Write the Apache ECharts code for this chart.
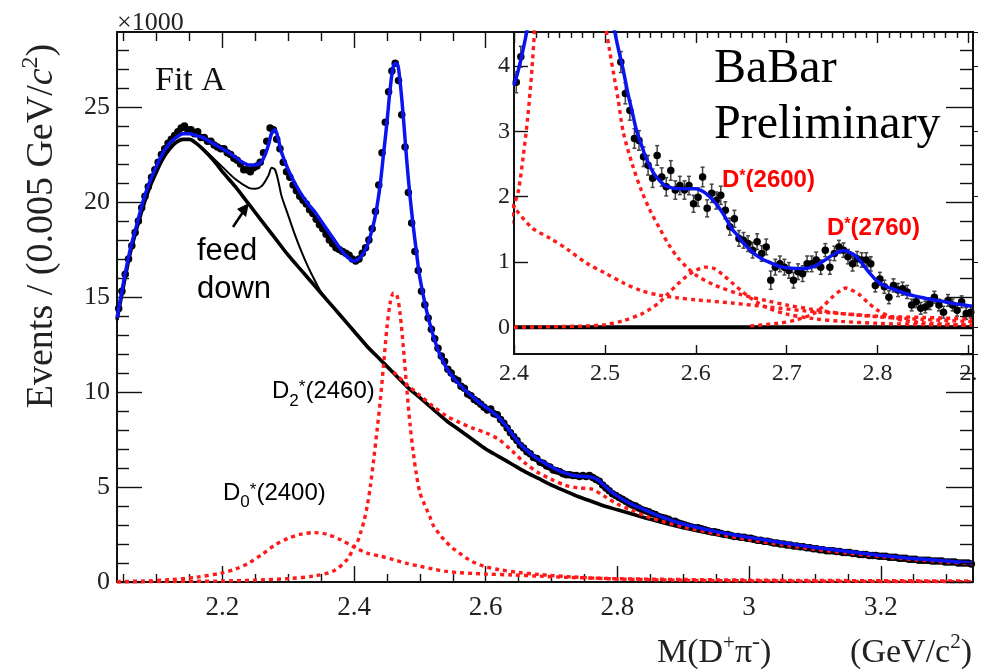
<!DOCTYPE html>
<html><head><meta charset="utf-8">
<script src="https://cdn.jsdelivr.net/npm/echarts@6/dist/echarts.min.js"></script>
<style>html,body{margin:0;padding:0;background:#fff}#c{width:988px;height:672px}</style>
</head><body><div id="c"></div>
<script>
// ---------- tick values ----------
const mainXMajor = [2.2, 2.4, 2.6, 2.8, 3, 3.2];
const mainXMinor = [2.05,2.1,2.15,2.25,2.3,2.35,2.45,2.5,2.55,2.65,2.7,2.75,2.85,2.9,2.95,3.05,3.1,3.15,3.25,3.3];
const mainYMajor = [0, 5, 10, 15, 20, 25];
const mainYMinor = [1,2,3,4,6,7,8,9,11,12,13,14,16,17,18,19,21,22,23,24,26,27,28];
const insetXMajor = [2.4, 2.5, 2.6, 2.7, 2.8, 2.9];
const insetXMinor = [2.4125,2.425,2.4375,2.45,2.4625,2.475,2.4875,2.5125,2.525,2.5375,2.55,2.5625,2.575,2.5875,2.6125,2.625,2.6375,2.65,2.6625,2.675,2.6875,2.7125,2.725,2.7375,2.75,2.7625,2.775,2.7875,2.8125,2.825,2.8375,2.85,2.8625,2.875,2.8875];
const insetYMajor = [0, 1, 2, 3, 4];

// ---------- main histogram (thousands of events per 0.005 GeV bin) ----------
const MAIN_X0 = 2.0425, BIN = 0.005;
const mainData = [
14.4,15.3,16.2,17.0,17.7,18.4,19.0,19.7,20.3,20.8,
21.3,21.7,22.1,22.5,22.8,23.1,23.3,23.5,23.7,23.9,
24.0,23.8,23.8,23.6,23.7,23.4,23.4,23.2,23.2,23.0,
22.9,22.8,22.8,22.6,22.5,22.3,22.2,22.0,21.7,21.7,
21.6,21.8,21.9,22.1,22.6,23.2,23.9,23.8,23.3,22.8,
22.1,21.6,21.3,20.9,20.6,20.3,20.1,19.9,19.6,19.4,
19.1,18.8,18.6,18.3,18.0,17.8,17.6,17.5,17.4,17.3,
17.2,17.0,16.9,17.0,17.3,17.6,18.0,18.6,19.5,20.9,
22.6,24.2,25.8,26.9,27.3,26.4,24.6,22.9,20.5,18.9,
17.4,16.4,15.3,14.6,13.9,13.3,12.8,12.3,11.9,11.6,
11.2,11.0,10.7,10.6,10.3,10.2,9.9,9.8,9.6,9.5,
9.35,9.2,9.05,9.1,8.85,8.8,8.55,8.35,8.1,7.85,
7.65,7.45,7.2,7.05,6.85,6.75,6.55,6.5,6.3,6.25,
6.1,6.05,5.9,5.85,5.8,5.7,5.65,5.65,5.6,5.6,
5.55,5.6,5.55,5.6,5.5,5.4,5.3,5.1,4.95,4.8,
4.65,4.55,4.45,4.35,4.25,4.15,4.05,4.0,3.9,3.8,
3.75,3.7,3.6,3.55,3.45,3.4,3.35,3.3,3.2,3.2,
3.1,3.05,3.0,2.95,2.9,2.85,2.85,2.8,2.75,2.7,
2.65,2.65,2.6,2.55,2.5,2.5,2.45,2.4,2.4,2.35,
2.35,2.3,2.3,2.25,2.2,2.2,2.15,2.15,2.1,2.05,
2.05,2.0,2.0,1.95,1.95,1.9,1.9,1.85,1.85,1.8,
1.8,1.75,1.75,1.7,1.7,1.65,1.65,1.65,1.6,1.6,
1.55,1.55,1.55,1.5,1.5,1.45,1.45,1.45,1.4,1.4,
1.4,1.35,1.35,1.35,1.3,1.3,1.3,1.25,1.25,1.25,
1.2,1.2,1.2,1.15,1.15,1.15,1.15,1.1,1.1,1.1,
1.1,1.05,1.05,1.05,1.05,1.0,1.0,1.0,1.0,0.95];

// ---------- main fit curves ----------
const blueX = [2.04,2.05,2.06,2.07,2.08,2.09,2.10,2.11,2.12,2.13,2.14,2.15,2.16,2.17,2.18,2.19,2.20,2.21,2.22,2.23,2.24,2.25,2.26,2.265,2.27,2.275,2.28,2.285,2.29,2.30,2.31,2.32,2.33,2.34,2.35,2.36,2.37,2.38,2.39,2.40,2.41,2.42,2.43,2.435,2.44,2.445,2.45,2.455,2.46,2.465,2.47,2.475,2.48,2.485,2.49,2.495,2.50,2.51,2.52,2.53,2.54,2.55,2.56,2.57,2.58,2.59,2.60,2.61,2.62,2.63,2.64,2.65,2.66,2.67,2.68,2.69,2.70,2.71,2.72,2.73,2.74,2.75,2.76,2.77,2.78,2.79,2.80,2.82,2.84,2.86,2.88,2.90,2.95,3.00,3.05,3.10,3.15,3.20,3.25,3.30,3.34];
const blueY = [13.9,15.8,17.5,18.8,20.1,21.1,21.9,22.6,23.1,23.4,23.6,23.6,23.5,23.4,23.2,23.0,22.8,22.6,22.35,22.1,21.95,21.95,22.15,22.5,23.0,23.65,23.8,23.3,22.6,21.7,21.0,20.4,19.9,19.5,19.0,18.5,18.0,17.5,17.1,16.9,17.1,17.7,18.9,19.8,21.0,22.6,24.2,26.0,27.2,27.3,26.3,24.4,22.2,20.3,18.7,17.3,16.0,14.3,13.0,12.0,11.3,10.8,10.4,10.05,9.75,9.45,9.2,8.95,8.65,8.25,7.8,7.35,7.0,6.7,6.45,6.25,6.05,5.88,5.74,5.63,5.58,5.56,5.52,5.38,5.08,4.77,4.52,4.12,3.82,3.52,3.27,3.05,2.65,2.35,2.07,1.82,1.6,1.4,1.24,1.1,1.0];

const bkgX = [2.04,2.05,2.06,2.07,2.08,2.09,2.10,2.11,2.12,2.13,2.14,2.15,2.16,2.17,2.18,2.19,2.20,2.22,2.24,2.26,2.28,2.30,2.32,2.34,2.36,2.38,2.40,2.42,2.44,2.46,2.48,2.50,2.52,2.54,2.56,2.58,2.60,2.62,2.64,2.66,2.68,2.70,2.72,2.74,2.76,2.78,2.80,2.85,2.90,2.95,3.00,3.05,3.10,3.15,3.20,3.25,3.30,3.34];
const bkgY = [13.8,15.6,17.3,18.6,19.8,20.8,21.6,22.3,22.8,23.15,23.3,23.3,23.1,22.8,22.45,22.05,21.6,20.8,19.9,19.0,18.1,17.2,16.4,15.6,14.8,14.0,13.2,12.4,11.7,11.0,10.3,9.7,9.1,8.5,8.0,7.5,7.0,6.6,6.2,5.8,5.45,5.1,4.8,4.5,4.25,4.0,3.8,3.3,2.85,2.5,2.2,1.93,1.7,1.5,1.32,1.16,1.03,0.93];

const feedX = [2.16,2.18,2.20,2.22,2.24,2.25,2.26,2.27,2.275,2.28,2.285,2.29,2.30,2.31,2.32,2.33,2.34,2.35,2.36];
const feedY = [23.1,22.5,21.85,21.2,20.75,20.7,20.85,21.4,21.8,21.7,21.1,20.3,19.3,18.3,17.4,16.6,15.9,15.25,14.8];

const exX = [2.46,2.48,2.50,2.52,2.54,2.56,2.58,2.60,2.62,2.64,2.66,2.68,2.70,2.72,2.74,2.76,2.78,2.80,2.82,2.85,2.90,2.95,3.00,3.05,3.10,3.15,3.20,3.25,3.30,3.34];
const exY = [11.05,10.4,9.82,9.25,8.75,8.4,8.1,7.85,7.5,6.9,6.25,5.75,5.4,5.1,4.95,4.9,4.52,4.1,3.8,3.38,2.9,2.54,2.23,1.96,1.72,1.52,1.34,1.18,1.05,0.95];

const d0X = [2.04,2.08,2.12,2.16,2.20,2.22,2.24,2.26,2.28,2.30,2.32,2.34,2.36,2.38,2.40,2.42,2.44,2.46,2.48,2.50,2.52,2.54,2.56,2.58,2.60,2.64,2.68,2.72,2.76,2.80,2.85,2.90,3.00,3.10,3.20,3.34];
const d0Y = [0.02,0.05,0.12,0.25,0.48,0.68,1.0,1.45,1.95,2.3,2.52,2.6,2.5,2.22,1.84,1.52,1.36,1.18,0.98,0.83,0.68,0.56,0.49,0.45,0.42,0.37,0.31,0.25,0.21,0.17,0.15,0.13,0.1,0.08,0.07,0.05];

const d2X = [2.04,2.10,2.20,2.25,2.30,2.34,2.37,2.39,2.40,2.405,2.41,2.415,2.42,2.425,2.43,2.435,2.44,2.445,2.45,2.455,2.46,2.465,2.47,2.475,2.48,2.485,2.49,2.495,2.50,2.505,2.51,2.515,2.52,2.53,2.54,2.55,2.56,2.57,2.58,2.59,2.60,2.62,2.65,2.68,2.70,2.73,2.76,2.80,2.85,2.90,3.00,3.10,3.20,3.34];
const d2Y = [0.0,0.02,0.05,0.1,0.18,0.32,0.6,1.2,1.85,2.1,2.6,3.2,4.0,5.1,6.5,8.0,9.6,11.5,13.4,14.7,15.2,15.1,14.1,12.3,10.2,8.3,6.8,5.6,4.7,4.25,3.85,3.45,3.0,2.5,2.1,1.78,1.52,1.27,1.07,0.92,0.8,0.65,0.5,0.4,0.34,0.27,0.21,0.16,0.12,0.09,0.06,0.04,0.03,0.02];

// ---------- inset: background-subtracted ----------
const INSET_X0 = 2.4025;
const insetData = [
3.75,4.14,
null,null,null,null,null,null,null,null,null,null,null,null,null,null,null,null,null,null,null,null,null,
4.06,3.58,3.32,2.89,2.86,2.61,2.48,2.28,2.63,2.30,
2.15,2.40,2.10,2.17,2.10,2.17,1.89,1.99,2.30,1.82,
2.05,1.94,2.02,1.79,1.54,1.66,1.36,1.33,1.28,1.18,
1.31,1.13,1.23,0.72,0.92,0.97,0.92,0.87,0.72,0.85,
0.82,0.97,0.97,1.03,0.92,1.18,0.92,1.13,1.23,1.18,
1.08,0.97,1.05,1.03,1.03,0.97,0.64,0.74,0.62,0.46,
0.64,0.57,0.59,0.54,0.34,0.39,0.29,0.31,0.36,0.46,
0.34,0.23,0.41,0.34,0.26,0.39,0.21,0.23];
const insetErr = [
0.16,0.16,
null,null,null,null,null,null,null,null,null,null,null,null,null,null,null,null,null,null,null,null,null,
0.16,0.16,0.15,0.15,0.15,0.15,0.15,0.14,0.15,0.14,
0.14,0.15,0.14,0.14,0.14,0.14,0.13,0.14,0.15,0.13,
0.14,0.13,0.14,0.13,0.13,0.13,0.12,0.12,0.12,0.12,
0.12,0.12,0.12,0.14,0.12,0.12,0.12,0.12,0.12,0.12,
0.12,0.12,0.12,0.12,0.11,0.1,0.11,0.11,0.1,0.11,
0.11,0.11,0.11,0.11,0.11,0.11,0.1,0.1,0.1,0.1,
0.1,0.1,0.1,0.1,0.09,0.09,0.09,0.09,0.09,0.09,
0.09,0.09,0.09,0.09,0.09,0.09,0.09,0.09];

const insBlueX = [2.400,2.405,2.410,2.415,2.420,2.43,2.44,2.45,2.46,2.47,2.48,2.49,2.50,2.505,2.51,2.515,2.52,2.525,2.53,2.535,2.54,2.545,2.55,2.555,2.56,2.565,2.57,2.58,2.59,2.60,2.605,2.61,2.615,2.62,2.625,2.63,2.635,2.64,2.645,2.65,2.655,2.66,2.665,2.67,2.675,2.68,2.69,2.70,2.71,2.72,2.73,2.74,2.75,2.755,2.76,2.765,2.77,2.775,2.78,2.785,2.79,2.795,2.80,2.81,2.82,2.83,2.84,2.85,2.86,2.87,2.88,2.89,2.90,2.905];
const insBlueY = [3.7,3.95,4.25,4.6,5.1,6.6,9.3,13.2,16.2,15.3,11.9,8.6,6.3,5.3,4.6,4.25,3.95,3.6,3.3,3.0,2.8,2.6,2.45,2.33,2.25,2.18,2.15,2.12,2.12,2.12,2.1,2.06,2.0,1.93,1.84,1.74,1.62,1.5,1.42,1.33,1.25,1.18,1.12,1.07,1.03,1.0,0.94,0.91,0.9,0.9,0.93,1.01,1.1,1.14,1.17,1.17,1.14,1.1,1.03,0.94,0.85,0.77,0.7,0.62,0.57,0.52,0.48,0.45,0.42,0.4,0.37,0.35,0.33,0.32];

const d2600X = [2.40,2.45,2.48,2.50,2.52,2.54,2.55,2.56,2.57,2.58,2.59,2.60,2.61,2.62,2.63,2.64,2.65,2.66,2.67,2.68,2.70,2.73,2.76,2.80,2.85,2.905];
const d2600Y = [0.0,0.01,0.02,0.04,0.1,0.2,0.28,0.38,0.52,0.66,0.78,0.87,0.92,0.9,0.8,0.68,0.56,0.45,0.36,0.29,0.2,0.13,0.09,0.06,0.04,0.03];

const d2760X = [2.66,2.69,2.71,2.73,2.74,2.75,2.76,2.765,2.77,2.78,2.79,2.80,2.82,2.85,2.905];
const d2760Y = [0.02,0.06,0.11,0.21,0.32,0.46,0.57,0.6,0.58,0.5,0.37,0.26,0.13,0.07,0.03];

const zeroX = [2.40, 2.905];
const zeroY = [0, 0];

// ---------- helpers ----------
const pairs = (xs, ys) => xs.map((x, i) => [x, ys[i]]);
const mainPts = mainData.map((v, i) => [+(MAIN_X0 + i * BIN).toFixed(4), v]);
const insetPts = [], insetBars = [];
insetData.forEach((v, i) => {
  if (v === null) return;
  const x = +(INSET_X0 + i * BIN).toFixed(4);
  insetPts.push([x, v]);
  insetBars.push([x, v - insetErr[i], v + insetErr[i]]);
});

const SERIF = '"Liberation Serif", "Times New Roman", serif';
const SANS = '"Liberation Sans", Arial, sans-serif';
const mctx = document.createElement('canvas').getContext('2d');
function baseOff(font) { mctx.font = font; mctx.textBaseline = 'middle'; return mctx.measureText('H').actualBoundingBoxDescent; }
function runWidth(parts) { let w = 0; parts.forEach(p => { mctx.font = p.font; w += mctx.measureText(p.t).width; }); return w; }
function run(ox, oy, parts, opt) {
  opt = opt || {};
  const rot = opt.rot || 0;
  const ux = Math.cos(rot), uy = -Math.sin(rot);
  const vx = Math.sin(rot), vy = Math.cos(rot);
  let adv = 0;
  if (opt.anchor === 'center') adv = -runWidth(parts) / 2;
  if (opt.anchor === 'right') adv = -runWidth(parts);
  const els = [];
  parts.forEach(p => {
    mctx.font = p.font;
    const w = mctx.measureText(p.t).width;
    const ly = (p.dy || 0) - baseOff(p.font);
    els.push({ type: 'text', silent: true, z: 50, rotation: rot,
      x: ox + ux * adv + vx * ly, y: oy + uy * adv + vy * ly,
      style: { text: p.t, font: p.font, fill: p.fill || opt.fill || '#000',
        align: 'left', verticalAlign: 'middle', textAlign: 'left', textVerticalAlign: 'middle' } });
    adv += w;
  });
  return els;
}

const TICK = '#111';
function vAxis(o) {
  return Object.assign({
    type: 'value', splitLine: { show: false },
    axisLine: { show: false, onZero: false, lineStyle: { color: TICK, width: 2 } },
    axisLabel: { show: false },
  }, o);
}
function ticks(values, len, w) {
  return { show: true, inside: true, length: len, customValues: values, lineStyle: { color: TICK, width: w || 1.4 } };
}

const dotted = (color) => ({ color: color || '#ff1a1a', width: 3.4, type: [4, 4], cap: 'butt' });

const option = {
  animation: false,
  backgroundColor: '#fff',
  grid: [
    { left: 117, top: 32, width: 856, height: 550, show: false, outerBoundsMode: 'none' },
    { left: 514, top: 32, width: 459, height: 322, show: true, backgroundColor: '#fff', borderWidth: 0, z: 5, outerBoundsMode: 'none' }
  ],
  xAxis: [
    vAxis({ gridIndex: 0, position: 'bottom', min: 2.04, max: 3.34,
      axisLine: { show: true, onZero: false, lineStyle: { color: TICK, width: 2 } },
      axisTick: ticks(mainXMajor, 16),
      axisLabel: { show: true, customValues: mainXMajor, fontFamily: SERIF, fontSize: 27, color: '#222', margin: 12 } }),
    vAxis({ gridIndex: 0, position: 'bottom', min: 2.04, max: 3.34, axisTick: ticks(mainXMinor, 8) }),
    vAxis({ gridIndex: 0, position: 'top', min: 2.04, max: 3.34,
      axisLine: { show: true, onZero: false, lineStyle: { color: TICK, width: 2 } },
      axisTick: ticks(mainXMajor, 16) }),
    vAxis({ gridIndex: 0, position: 'top', min: 2.04, max: 3.34, axisTick: ticks(mainXMinor, 9) }),
    vAxis({ gridIndex: 1, position: 'bottom', min: 2.4, max: 2.905, z: 6,
      axisLine: { show: true, onZero: false, lineStyle: { color: TICK, width: 2 } },
      axisTick: ticks(insetXMajor, 9),
      axisLabel: { show: true, customValues: insetXMajor, fontFamily: SERIF, fontSize: 24, color: '#222', margin: 8,
        formatter: v => (Math.abs(v - 2.9) < 1e-6 ? '2.' : String(v)) } }),
    vAxis({ gridIndex: 1, position: 'top', min: 2.4, max: 2.905, z: 6,
      axisLine: { show: true, onZero: false, lineStyle: { color: TICK, width: 2 } },
      axisTick: ticks(insetXMajor, 11) }),
    vAxis({ gridIndex: 1, position: 'top', min: 2.4, max: 2.905, z: 6, axisTick: ticks(insetXMinor, 6) })
  ],
  yAxis: [
    vAxis({ gridIndex: 0, position: 'left', min: 0, max: 28.95,
      axisLine: { show: true, onZero: false, lineStyle: { color: TICK, width: 2 } },
      axisTick: ticks(mainYMajor, 25),
      axisLabel: { show: true, customValues: mainYMajor, fontFamily: SERIF, fontSize: 26, color: '#222', margin: 7 } }),
    vAxis({ gridIndex: 0, position: 'left', min: 0, max: 28.95, axisTick: ticks(mainYMinor, 12) }),
    vAxis({ gridIndex: 0, position: 'right', min: 0, max: 28.95, z: 20,
      axisLine: { show: true, onZero: false, lineStyle: { color: TICK, width: 2 } },
      axisTick: ticks(mainYMajor, 27) }),
    vAxis({ gridIndex: 0, position: 'right', min: 0, max: 28.95, z: 20, axisTick: ticks(mainYMinor, 13) }),
    vAxis({ gridIndex: 1, position: 'left', min: -0.41, max: 4.52, z: 6,
      axisLine: { show: true, onZero: false, lineStyle: { color: TICK, width: 2 } },
      axisTick: ticks(insetYMajor, 14),
      axisLabel: { show: true, customValues: insetYMajor, fontFamily: SERIF, fontSize: 24, color: '#222', margin: 4 } }),
    vAxis({ gridIndex: 1, position: 'right', min: -0.41, max: 4.52, z: 6,
      axisLine: { show: true, onZero: false, lineStyle: { color: TICK, width: 2 } } })
  ],
  series: [
    // main plot
    { type: 'scatter', xAxisIndex: 0, yAxisIndex: 0, data: mainPts, symbol: 'circle', symbolSize: 7.5,
      itemStyle: { color: '#000', opacity: 1 }, silent: true, z: 2 },
    { type: 'line', xAxisIndex: 0, yAxisIndex: 0, data: pairs(bkgX, bkgY), showSymbol: false, smooth: 0.3,
      lineStyle: { color: '#000', width: 3.6 }, silent: true, z: 3 },
    { type: 'line', xAxisIndex: 0, yAxisIndex: 0, data: pairs(feedX, feedY), showSymbol: false, smooth: 0.3,
      lineStyle: { color: '#000', width: 2 }, silent: true, z: 3 },
    { type: 'line', xAxisIndex: 0, yAxisIndex: 0, data: pairs(exX, exY), showSymbol: false, smooth: 0.3,
      lineStyle: dotted(), silent: true, z: 4 },
    { type: 'line', xAxisIndex: 0, yAxisIndex: 0, data: pairs(d0X, d0Y), showSymbol: false, smooth: 0.3,
      lineStyle: dotted(), silent: true, z: 4 },
    { type: 'line', xAxisIndex: 0, yAxisIndex: 0, data: pairs(d2X, d2Y), showSymbol: false, smooth: 0.3,
      lineStyle: dotted(), silent: true, z: 4 },
    { type: 'line', xAxisIndex: 0, yAxisIndex: 0, data: pairs(blueX, blueY), showSymbol: false, smooth: 0.3,
      lineStyle: { color: '#0a14f0', width: 3.5 }, silent: true, z: 5 },
    // inset
    { type: 'custom', xAxisIndex: 4, yAxisIndex: 4, data: insetBars, clip: true, silent: true, z: 7,
      encode: { x: 0, y: [1, 2] },
      renderItem: (params, api) => {
        const x = api.value(0);
        const a = api.coord([x, api.value(1)]), b = api.coord([x, api.value(2)]);
        const st = { stroke: '#444', lineWidth: 1.5 };
        return { type: 'group', children: [
          { type: 'line', shape: { x1: a[0], y1: a[1], x2: b[0], y2: b[1] }, style: st },
          { type: 'line', shape: { x1: a[0] - 2, y1: a[1], x2: a[0] + 2, y2: a[1] }, style: st },
          { type: 'line', shape: { x1: b[0] - 2, y1: b[1], x2: b[0] + 2, y2: b[1] }, style: st }
        ] };
      } },
    { type: 'scatter', xAxisIndex: 4, yAxisIndex: 4, data: insetPts, symbol: 'circle', symbolSize: 7.5,
      itemStyle: { color: '#000', opacity: 1 }, silent: true, z: 8 },
    { type: 'line', xAxisIndex: 4, yAxisIndex: 4, data: pairs(zeroX, zeroY), showSymbol: false,
      lineStyle: { color: '#000', width: 4 }, silent: true, z: 8 },
    { type: 'line', xAxisIndex: 4, yAxisIndex: 4, data: pairs(d0X, d0Y), showSymbol: false, smooth: 0.3,
      lineStyle: dotted(), silent: true, z: 9 },
    { type: 'line', xAxisIndex: 4, yAxisIndex: 4, data: pairs(d2X, d2Y), showSymbol: false, smooth: 0.3,
      lineStyle: dotted(), silent: true, z: 9 },
    { type: 'line', xAxisIndex: 4, yAxisIndex: 4, data: pairs(d2600X, d2600Y), showSymbol: false, smooth: 0.3,
      lineStyle: dotted(), silent: true, z: 9 },
    { type: 'line', xAxisIndex: 4, yAxisIndex: 4, data: pairs(d2760X, d2760Y), showSymbol: false, smooth: 0.3,
      lineStyle: dotted(), silent: true, z: 9 },
    { type: 'line', xAxisIndex: 4, yAxisIndex: 4, data: pairs(insBlueX, insBlueY), showSymbol: false, smooth: 0.3,
      lineStyle: { color: '#0a14f0', width: 3.5 }, silent: true, z: 10 }
  ],
  graphic: [].concat(
    run(52, 226, [
      { t: 'Events / (0.005 GeV/', font: '38px ' + SERIF },
      { t: 'c', font: 'italic 38px ' + SERIF },
      { t: '2', font: '24px ' + SERIF, dy: -15 },
      { t: ')', font: '38px ' + SERIF }
    ], { rot: Math.PI / 2, anchor: 'center', fill: '#222' }),
    run(657, 662, [
      { t: 'M(D', font: '34px ' + SERIF },
      { t: '+', font: '21px ' + SERIF, dy: -13 },
      { t: 'π', font: '34px ' + SERIF },
      { t: '-', font: '24px ' + SERIF, dy: -13 },
      { t: ')', font: '34px ' + SERIF }
    ], { fill: '#222' }),
    run(972, 662, [
      { t: '(GeV/c', font: '34px ' + SERIF },
      { t: '2', font: '21px ' + SERIF, dy: -14 },
      { t: ')', font: '34px ' + SERIF }
    ], { anchor: 'right', fill: '#222' }),
    run(117, 30, [{ t: '×1000', font: '26px ' + SERIF }], { fill: '#222' }),
    run(155, 90, [{ t: 'Fit A', font: '34px ' + SERIF }], { fill: '#111' }),
    run(714, 82, [{ t: 'BaBar', font: '48px ' + SERIF }], { fill: '#000' }),
    run(714, 138, [{ t: 'Preliminary', font: '48px ' + SERIF }], { fill: '#000' }),
    run(197, 260, [{ t: 'feed', font: '31px ' + SANS }], { fill: '#000' }),
    run(197, 298, [{ t: 'down', font: '31px ' + SANS }], { fill: '#000' }),
    run(272, 398, [
      { t: 'D', font: '24px ' + SANS },
      { t: '2', font: '17px ' + SANS, dy: 8 },
      { t: '*', font: '17px ' + SANS, dy: -6 },
      { t: '(2460)', font: '24px ' + SANS }
    ], { fill: '#000' }),
    run(223, 500, [
      { t: 'D', font: '24px ' + SANS },
      { t: '0', font: '17px ' + SANS, dy: 7 },
      { t: '*', font: '17px ' + SANS, dy: -5 },
      { t: '(2400)', font: '24px ' + SANS }
    ], { fill: '#000' }),
    run(722, 187, [
      { t: 'D', font: 'bold 24px ' + SANS },
      { t: '*', font: 'bold 16px ' + SANS, dy: -6 },
      { t: '(2600)', font: 'bold 24px ' + SANS }
    ], { fill: '#ff0000' }),
    run(827, 235, [
      { t: 'D', font: 'bold 24px ' + SANS },
      { t: '*', font: 'bold 16px ' + SANS, dy: -6 },
      { t: '(2760)', font: 'bold 24px ' + SANS }
    ], { fill: '#ff0000' }),
    [
      { type: 'line', silent: true, z: 50, shape: { x1: 233, y1: 227, x2: 243, y2: 212 }, style: { stroke: '#000', lineWidth: 2.5 } },
      { type: 'polygon', silent: true, z: 50, shape: { points: [[249, 203], [237, 209], [246, 217]] }, style: { fill: '#000' } }
    ]
  )
};

const chart = echarts.init(document.getElementById('c'), null, { renderer: 'canvas', width: 988, height: 672 });
chart.setOption(option);
</script></body></html>
